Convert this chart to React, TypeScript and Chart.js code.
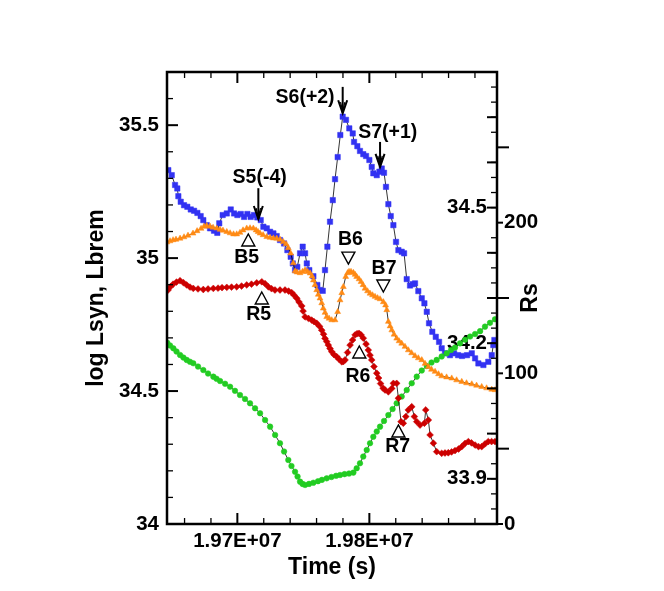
import { useEffect, useRef } from "react"
import { Chart, registerables } from "chart.js"

Chart.register(...registerables)

// time is in units of 1000 s, values are log L (left axis) or Rs (right axis)
const blue = [
  [19647.7, 35.331], [19650.3, 35.312], [19652.8, 35.275], [19654.5, 35.262], [19655.3, 35.233],
  [19657.1, 35.212], [19659.6, 35.199], [19662.1, 35.193], [19664.7, 35.183], [19667.2, 35.178],
  [19669.7, 35.17], [19672.2, 35.158], [19674.2, 35.143], [19676.8, 35.124], [19679.3, 35.112],
  [19682.3, 35.103], [19684.8, 35.095], [19686.3, 35.131], [19688.9, 35.162], [19692.0, 35.168],
  [19695.0, 35.183], [19697.5, 35.168], [19700.0, 35.162], [19702.6, 35.166], [19705.1, 35.155],
  [19707.6, 35.166], [19710.1, 35.155], [19712.6, 35.162], [19715.1, 35.153], [19717.7, 35.143],
  [19719.7, 35.118], [19722.3, 35.112], [19724.8, 35.099], [19727.3, 35.093], [19729.8, 35.083],
  [19732.3, 35.068], [19735.4, 35.055], [19737.9, 35.03], [19740.4, 35.005], [19742.0, 34.98],
  [19743.7, 34.955], [19745.4, 34.967], [19747.5, 35.018], [19749.5, 35.043], [19751.3, 35.018],
  [19752.6, 34.98], [19754.5, 34.955], [19757.6, 34.932], [19760.6, 34.899], [19762.6, 34.88],
  [19764.7, 34.877], [19766.4, 34.955], [19768.2, 35.043], [19770.2, 35.137], [19772.3, 35.218],
  [19774.0, 35.297], [19776.0, 35.38], [19778.0, 35.463], [19779.8, 35.532], [19782.3, 35.52],
  [19784.8, 35.488], [19787.4, 35.469], [19788.4, 35.437], [19790.9, 35.421], [19792.9, 35.403],
  [19795.4, 35.391], [19797.5, 35.384], [19800.0, 35.369], [19801.8, 35.343], [19803.0, 35.319],
  [19805.6, 35.312], [19807.6, 35.325], [19809.4, 35.337], [19811.1, 35.321], [19812.6, 35.268],
  [19814.4, 35.203], [19816.2, 35.158], [19818.2, 35.124], [19820.2, 35.061], [19822.0, 35.03],
  [19824.5, 35.024], [19826.3, 35.018], [19828.3, 34.921], [19830.8, 34.897], [19832.9, 34.902],
  [19834.6, 34.905], [19837.1, 34.876], [19839.7, 34.849], [19841.7, 34.83], [19843.5, 34.798],
  [19845.2, 34.755], [19847.7, 34.723], [19850.3, 34.704], [19852.8, 34.685], [19854.8, 34.661],
  [19857.3, 34.642], [19861.1, 34.635], [19864.2, 34.642], [19867.2, 34.635], [19870.2, 34.632],
  [19874.0, 34.635], [19877.6, 34.642], [19880.1, 34.623], [19882.6, 34.604], [19886.4, 34.598],
  [19890.1, 34.61], [19892.7, 34.635], [19893.9, 34.673], [19894.7, 34.692],
]

const orange = [
  [19646.7, 35.06], [19649.0, 35.064], [19651.3, 35.068], [19653.5, 35.07], [19656.6, 35.074],
  [19659.6, 35.079], [19662.6, 35.085], [19666.4, 35.093], [19669.5, 35.102], [19672.5, 35.111],
  [19674.8, 35.119], [19676.8, 35.122], [19679.3, 35.119], [19681.6, 35.115], [19684.4, 35.112],
  [19686.9, 35.107], [19689.1, 35.104], [19692.0, 35.099], [19694.5, 35.094], [19697.1, 35.09],
  [19699.5, 35.09], [19702.0, 35.096], [19704.3, 35.105], [19707.1, 35.112], [19709.6, 35.113],
  [19712.1, 35.112], [19714.2, 35.105], [19715.7, 35.099], [19717.2, 35.093], [19719.5, 35.087],
  [19722.3, 35.08], [19724.8, 35.077], [19727.3, 35.075], [19729.8, 35.074], [19732.3, 35.07],
  [19734.8, 35.061], [19736.9, 35.053], [19738.6, 35.038], [19740.4, 35.018], [19742.4, 34.981],
  [19743.7, 34.951], [19745.2, 34.947], [19747.5, 34.944], [19749.4, 34.949], [19751.3, 34.955],
  [19753.2, 34.949], [19755.1, 34.943], [19756.6, 34.932], [19757.6, 34.917], [19758.8, 34.899],
  [19760.1, 34.88], [19761.3, 34.863], [19762.6, 34.849], [19763.9, 34.831], [19765.1, 34.811],
  [19766.4, 34.795], [19767.7, 34.779], [19769.5, 34.773], [19771.5, 34.767], [19774.0, 34.767],
  [19776.0, 34.798], [19777.8, 34.842], [19779.1, 34.869], [19780.3, 34.892], [19782.1, 34.93],
  [19783.5, 34.944], [19784.6, 34.949], [19786.1, 34.949], [19787.9, 34.945], [19789.2, 34.938],
  [19790.4, 34.93], [19792.2, 34.921], [19793.7, 34.911], [19795.2, 34.899], [19796.7, 34.886],
  [19798.6, 34.876], [19800.5, 34.867], [19802.4, 34.861], [19804.3, 34.855], [19806.2, 34.85],
  [19808.1, 34.846], [19810.6, 34.835], [19812.3, 34.823], [19813.2, 34.805], [19814.4, 34.761],
  [19815.7, 34.744], [19817.0, 34.729], [19818.7, 34.713], [19820.7, 34.698], [19822.5, 34.688],
  [19824.5, 34.679], [19827.0, 34.667], [19829.5, 34.654], [19832.0, 34.643], [19834.6, 34.632],
  [19837.1, 34.624], [19839.7, 34.617], [19842.2, 34.603], [19844.7, 34.591], [19847.1, 34.581],
  [19849.8, 34.573], [19852.4, 34.564], [19854.8, 34.556], [19858.5, 34.552], [19862.4, 34.548],
  [19866.1, 34.541], [19870.0, 34.535], [19873.6, 34.53], [19877.6, 34.526], [19881.2, 34.521],
  [19885.1, 34.516], [19888.8, 34.511], [19892.7, 34.506], [19895.2, 34.504],
]

const red = [
  [19647.5, 34.88], [19649.4, 34.893], [19651.3, 34.902], [19653.9, 34.91], [19656.6, 34.915],
  [19659.1, 34.908], [19661.6, 34.899], [19664.1, 34.891], [19666.6, 34.886], [19670.2, 34.884],
  [19674.2, 34.882], [19677.8, 34.884], [19681.8, 34.886], [19685.4, 34.887], [19688.4, 34.889],
  [19692.0, 34.89], [19695.6, 34.891], [19699.5, 34.892], [19703.2, 34.895], [19707.1, 34.899],
  [19710.7, 34.902], [19714.7, 34.907], [19718.5, 34.911], [19721.0, 34.904], [19723.5, 34.892],
  [19725.9, 34.885], [19728.5, 34.88], [19732.3, 34.88], [19736.1, 34.88], [19738.8, 34.876],
  [19741.2, 34.87], [19742.9, 34.861], [19745.0, 34.849], [19746.7, 34.835], [19748.8, 34.82],
  [19749.8, 34.801], [19751.3, 34.779], [19753.9, 34.773], [19756.3, 34.767], [19758.1, 34.761],
  [19760.1, 34.755], [19762.3, 34.743], [19763.9, 34.729], [19765.3, 34.714], [19766.4, 34.698],
  [19767.7, 34.686], [19768.9, 34.673], [19770.2, 34.66], [19771.5, 34.648], [19773.2, 34.637],
  [19775.3, 34.629], [19777.0, 34.62], [19779.1, 34.61], [19780.3, 34.611], [19781.6, 34.617],
  [19783.5, 34.645], [19785.4, 34.673], [19787.3, 34.692], [19789.2, 34.711], [19790.7, 34.716],
  [19792.2, 34.717], [19793.7, 34.711], [19795.4, 34.699], [19797.5, 34.677], [19799.2, 34.654],
  [19800.5, 34.635], [19801.8, 34.617], [19803.5, 34.592], [19805.6, 34.567], [19807.0, 34.549],
  [19808.5, 34.528], [19810.4, 34.511], [19811.9, 34.504], [19814.4, 34.497], [19817.0, 34.51],
  [19818.2, 34.529], [19820.7, 34.529], [19822.0, 34.473], [19824.0, 34.385], [19825.7, 34.379],
  [19827.6, 34.404], [19829.5, 34.429], [19832.1, 34.441], [19834.1, 34.404], [19835.9, 34.385],
  [19838.4, 34.372], [19841.7, 34.379], [19842.7, 34.429], [19844.7, 34.391], [19846.0, 34.335],
  [19848.5, 34.304], [19851.0, 34.272], [19854.8, 34.266], [19857.3, 34.267], [19859.8, 34.268],
  [19862.3, 34.271], [19864.9, 34.276], [19867.6, 34.282], [19870.0, 34.291], [19872.5, 34.303],
  [19875.0, 34.31], [19877.4, 34.305], [19880.1, 34.297], [19882.7, 34.291], [19885.1, 34.291],
  [19887.6, 34.301], [19890.1, 34.31], [19892.6, 34.31], [19895.2, 34.31],
]

const green = [
  [19646.9, 120.3], [19649.0, 118.5], [19651.5, 116.6], [19653.9, 114.5], [19656.6, 112.2],
  [19659.1, 110.5], [19661.6, 108.9], [19664.1, 107.7], [19666.6, 106.7], [19670.2, 104.5],
  [19674.2, 102.2], [19677.8, 99.9], [19681.8, 97.8], [19684.2, 96.4], [19686.9, 94.9],
  [19690.7, 93.1], [19694.5, 91.1], [19698.2, 88.4], [19702.0, 85.6], [19705.8, 83.0],
  [19709.6, 80.1], [19713.4, 76.8], [19717.2, 73.5], [19721.0, 69.0], [19724.8, 64.6],
  [19728.6, 59.1], [19732.3, 53.6], [19735.4, 48.1], [19738.6, 42.5], [19741.0, 38.5],
  [19743.7, 34.7], [19745.6, 31.5], [19747.5, 28.1], [19749.4, 26.6], [19751.3, 25.9],
  [19754.3, 26.6], [19757.6, 27.4], [19761.1, 28.4], [19764.1, 29.3], [19767.7, 30.3],
  [19771.3, 31.2], [19774.8, 32.0], [19777.8, 32.5], [19781.2, 33.1], [19784.6, 33.5],
  [19787.9, 34.1], [19790.4, 37.0], [19792.9, 40.3], [19795.4, 44.8], [19798.0, 49.1],
  [19800.5, 53.6], [19803.0, 57.9], [19805.6, 61.4], [19808.1, 64.6], [19811.1, 68.4],
  [19814.4, 72.3], [19817.6, 76.3], [19820.7, 80.1], [19824.5, 84.6], [19828.3, 88.9],
  [19832.1, 93.4], [19835.9, 97.8], [19839.7, 101.9], [19843.5, 104.9], [19847.1, 107.2],
  [19851.0, 108.9], [19854.8, 111.2], [19858.6, 113.3], [19861.9, 115.5], [19864.9, 117.1],
  [19868.7, 119.9], [19872.5, 122.3], [19876.3, 124.4], [19880.1, 126.1], [19883.9, 128.0],
  [19887.6, 131.0], [19891.4, 133.5], [19895.2, 135.9],
]

const xTicks = [1.97e7, 1.98e7]
const leftTicks = [34, 34.5, 35, 35.5]
const rsTicks = [0, 100, 200]
const innerTicks = [33.9, 34.2, 34.5]

// arrow annotations: tip/top on the left axis, label anchor in data units
const arrows = [
  { label: "S5(-4)", t: 19715.9, tip: 35.147, top: 35.263, lt: 19716.9, lv: 35.303 },
  { label: "S6(+2)", t: 19779.8, tip: 35.545, top: 35.644, lt: 19751.3, lv: 35.605 },
  { label: "S7(+1)", t: 19808.1, tip: 35.343, top: 35.437, lt: 19813.9, lv: 35.472 },
]

const markers = [
  { label: "B5", up: true, t: 19708.3, v: 35.068, lt: 19707.1, lv: 35.0 },
  { label: "R5", up: true, t: 19718.5, v: 34.85, lt: 19716.2, lv: 34.786 },
  { label: "B6", up: false, t: 19784.1, v: 35.0, lt: 19785.7, lv: 35.071 },
  { label: "B7", up: false, t: 19810.6, v: 34.895, lt: 19811.1, lv: 34.961 },
  { label: "R6", up: true, t: 19792.4, v: 34.647, lt: 19791.4, lv: 34.556 },
  { label: "R7", up: true, t: 19822.0, v: 34.35, lt: 19821.5, lv: 34.29 },
]

const FONT = '"Liberation Sans", Arial, Helvetica, sans-serif'
const BLUE = "#3232f2"
const ORANGE = "#ff8a14"
const RED = "#cc0000"
const GREEN = "#22cc22"

const toPoints = (rows: number[][]) => rows.map(([t, v]) => ({ x: t * 1000, y: v }))

const line = (ctx: CanvasRenderingContext2D, x1: number, y1: number, x2: number, y2: number, w: number) => {
  ctx.lineWidth = w
  ctx.beginPath()
  ctx.moveTo(x1, y1)
  ctx.lineTo(x2, y2)
  ctx.stroke()
}

const annotatePlugin = {
  id: "annotate",
  afterDatasetsDraw(chart: any) {
    const { ctx, scales } = chart
    const xs = scales.x
    const ys = scales.y
    ctx.save()
    ctx.fillStyle = "#000"
    ctx.strokeStyle = "#000"
    ctx.font = `bold 19.5px ${FONT}`
    ctx.textAlign = "center"
    ctx.textBaseline = "middle"
    for (const a of arrows) {
      const px = xs.getPixelForValue(a.t * 1000)
      const yTop = ys.getPixelForValue(a.top)
      const yTip = ys.getPixelForValue(a.tip)
      line(ctx, px, yTop, px, yTip, 2)
      ctx.lineWidth = 2
      ctx.beginPath()
      ctx.moveTo(px - 4.5, yTip - 13)
      ctx.lineTo(px, yTip)
      ctx.lineTo(px + 4.5, yTip - 13)
      ctx.stroke()
      ctx.lineWidth = 1.2
      ctx.beginPath()
      ctx.moveTo(px - 2.2, yTip - 11)
      ctx.lineTo(px, yTip - 2)
      ctx.lineTo(px + 2.2, yTip - 11)
      ctx.stroke()
      ctx.fillText(a.label, xs.getPixelForValue(a.lt * 1000), ys.getPixelForValue(a.lv))
    }
    for (const m of markers) {
      const px = xs.getPixelForValue(m.t * 1000)
      const py = ys.getPixelForValue(m.v)
      const s = m.up ? 1 : -1
      ctx.lineWidth = 1.4
      ctx.beginPath()
      ctx.moveTo(px, py - 6 * s)
      ctx.lineTo(px + 6.5, py + 6 * s)
      ctx.lineTo(px - 6.5, py + 6 * s)
      ctx.closePath()
      ctx.stroke()
      ctx.fillText(m.label, xs.getPixelForValue(m.lt * 1000), ys.getPixelForValue(m.lv))
    }
    ctx.restore()
  },
}

const framePlugin = {
  id: "frame",
  afterDraw(chart: any) {
    const { ctx, chartArea, scales } = chart
    const { left, right, top, bottom } = chartArea
    ctx.save()
    ctx.strokeStyle = "#000"
    ctx.fillStyle = "#000"

    // x ticks, bottom and top, pointing inward
    for (let k = 983; k <= 994; k++) {
      const v = k * 20000
      const px = scales.x.getPixelForValue(v)
      if (px <= left || px >= right) continue
      const major = xTicks.includes(v)
      const len = major ? 11 : 6
      line(ctx, px, bottom, px, bottom - len, major ? 2 : 1.3)
      line(ctx, px, top, px, top + len, major ? 2 : 1.3)
    }
    // left axis ticks
    for (let k = 341; k <= 357; k++) {
      const v = k / 10
      const py = scales.y.getPixelForValue(v)
      const major = k % 5 === 0
      line(ctx, left, py, left + (major ? 11 : 6), py, major ? 2 : 1.3)
    }
    // Rs minor ticks inward, majors outward
    for (let k = 1; k < 30; k++) {
      const v = k * 10
      const py = scales.rs.getPixelForValue(v)
      if (k % 5 === 0) {
        const labelled = rsTicks.includes(v)
        line(ctx, right, py, right + (labelled ? 6 : 12), py, 2)
      } else {
        line(ctx, right, py, right - 6, py, 1.3)
      }
    }
    line(ctx, right, bottom, right + 6, bottom, 2)
    // inner axis ticks
    for (let k = 339; k <= 347; k++) {
      const py = scales.yin.getPixelForValue(k / 10)
      line(ctx, right, py, right - 10, py, 2)
    }

    ctx.lineWidth = 2.5
    ctx.strokeRect(left, top, right - left, bottom - top)

    // Rs title, reading bottom to top
    ctx.font = `bold 23px ${FONT}`
    ctx.textAlign = "center"
    ctx.textBaseline = "middle"
    ctx.translate(right + 34, (top + bottom) / 2)
    ctx.rotate(-Math.PI / 2)
    ctx.fillText("Rs", 0, 0)
    ctx.restore()
  },
}

const tickFont = { family: FONT, size: 20.5, weight: "bold" as const }
const titleFont = { family: FONT, size: 23, weight: "bold" as const }
const hidden = { display: false, drawTicks: false }

export default function App() {
  const canvasRef = useRef<HTMLCanvasElement>(null)

  useEffect(() => {
    if (!canvasRef.current) return

    const chart = new Chart(canvasRef.current, {
      type: "line",
      data: {
        datasets: [
          {
            label: "Lbrem",
            data: toPoints(orange),
            yAxisID: "y",
            borderColor: "#000",
            borderWidth: 0.8,
            pointStyle: "triangle",
            pointRadius: 3.4,
            pointBackgroundColor: ORANGE,
            pointBorderColor: ORANGE,
            pointBorderWidth: 0.5,
          },
          {
            label: "R",
            data: toPoints(red),
            yAxisID: "y",
            borderColor: "#000",
            borderWidth: 0.8,
            pointStyle: "rectRot",
            pointRadius: 3.4,
            pointBackgroundColor: RED,
            pointBorderColor: RED,
            pointBorderWidth: 0.5,
          },
          {
            label: "Rs",
            data: toPoints(green),
            yAxisID: "rs",
            borderColor: "#000",
            borderWidth: 0.8,
            pointStyle: "circle",
            pointRadius: 2.8,
            pointBackgroundColor: GREEN,
            pointBorderColor: GREEN,
            pointBorderWidth: 0.5,
          },
          {
            label: "Lsyn",
            data: toPoints(blue),
            yAxisID: "y",
            borderColor: "#000",
            borderWidth: 0.8,
            pointStyle: "rect",
            pointRadius: 3.8,
            pointBackgroundColor: BLUE,
            pointBorderColor: BLUE,
            pointBorderWidth: 0.5,
          },
        ],
      },
      options: {
        responsive: true,
        maintainAspectRatio: false,
        animation: false,
        layout: { padding: { top: 72, left: 0, right: 0, bottom: 0 } },
        plugins: {
          legend: { display: false },
          tooltip: { enabled: false },
        },
        scales: {
          x: {
            type: "linear",
            position: "bottom",
            min: 19646700,
            max: 19896700,
            grid: hidden,
            border: { display: false },
            afterBuildTicks: (scale: any) => {
              scale.ticks = xTicks.map((value) => ({ value }))
            },
            afterFit: (scale: any) => {
              scale.height = 67
            },
            ticks: {
              color: "#000",
              font: tickFont,
              padding: 5,
              maxRotation: 0,
              callback: (v: any) => (Number(v) / 1e7).toFixed(2) + "E+07",
            },
            title: {
              display: true,
              text: "Time (s)",
              color: "#000",
              font: titleFont,
              padding: { top: 0, bottom: 10 },
            },
          },
          y: {
            type: "linear",
            position: "left",
            min: 34,
            max: 35.7,
            grid: hidden,
            border: { display: false },
            afterBuildTicks: (scale: any) => {
              scale.ticks = leftTicks.map((value) => ({ value }))
            },
            afterFit: (scale: any) => {
              scale.width = 167
            },
            ticks: {
              color: "#000",
              font: tickFont,
              padding: 8,
              callback: (v: any) => String(v),
            },
            title: {
              display: true,
              text: "log Lsyn, Lbrem",
              color: "#000",
              font: titleFont,
              padding: { top: 83, bottom: 0 },
            },
          },
          yin: {
            type: "linear",
            position: "right",
            weight: 0,
            z: 1,
            min: 33.8,
            max: 34.8,
            grid: hidden,
            border: { display: false },
            afterBuildTicks: (scale: any) => {
              scale.ticks = innerTicks.map((value) => ({ value }))
            },
            afterFit: (scale: any) => {
              scale.width = 0
            },
            ticks: {
              color: "#000",
              font: tickFont,
              mirror: true,
              padding: -10,
              showLabelBackdrop: true,
              backdropColor: "#fff",
              backdropPadding: 2,
              callback: (v: any) => String(v),
            },
          },
          rs: {
            type: "linear",
            position: "right",
            weight: 1,
            min: 0,
            max: 300,
            grid: hidden,
            border: { display: false },
            afterBuildTicks: (scale: any) => {
              scale.ticks = rsTicks.map((value) => ({ value }))
            },
            afterFit: (scale: any) => {
              scale.width = 167
            },
            ticks: {
              color: "#000",
              font: tickFont,
              padding: 7,
              callback: (v: any) => String(v),
            },
          },
        },
      },
      plugins: [annotatePlugin, framePlugin],
    } as any)

    return () => chart.destroy()
  }, [])

  return (
    <div style={{ position: "fixed", left: 0, top: 0, width: 664, height: 591, background: "#fff" }}>
      <canvas ref={canvasRef} />
    </div>
  )
}
